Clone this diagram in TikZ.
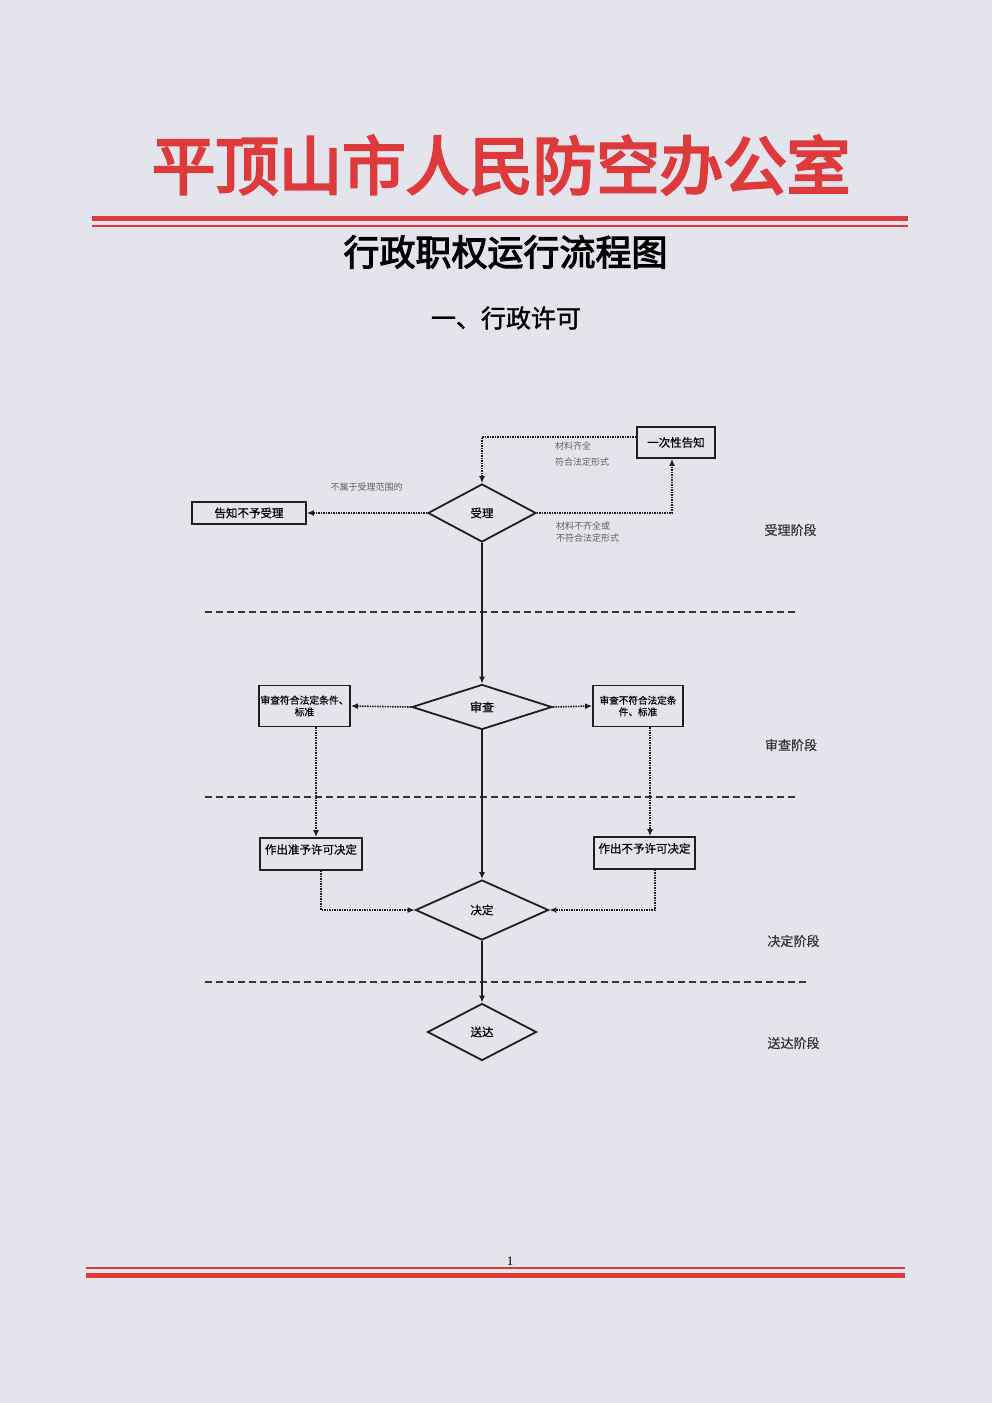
\documentclass[tikz,border=0pt]{standalone}
\usepackage{fontspec}
\setmainfont{Noto Sans CJK SC}
\newfontfamily\numfont{Liberation Serif}
\newfontfamily\titlefont[FakeBold=4]{Noto Sans CJK SC}
\newfontfamily\subfont[FakeBold=3]{Noto Sans CJK SC}
\newfontfamily\secfont[FakeBold=1.5]{Noto Sans CJK SC}
\newfontfamily\diafont[FakeBold=0.6]{Noto Sans CJK SC}
\usetikzlibrary{shapes.geometric,arrows.meta}
\newcommand\fsz[1]{\fontsize{#1}{#1}\selectfont}
\definecolor{paper}{RGB}{228,228,237}
\definecolor{hdred}{RGB}{222,58,60}
\definecolor{ink}{RGB}{30,30,30}
\definecolor{graytxt}{RGB}{95,95,95}
\tikzset{
  box/.style={draw=ink, line width=1.8pt, rectangle, inner sep=0pt, text=black, align=center, font=\diafont\fsz{11.5pt}},
  dia/.style={draw=ink, line width=1.8pt, diamond, inner sep=0pt, text=black, font=\diafont\fsz{11.5pt}},
  solidarrow/.style={draw=ink, line width=1.6pt, -{Latex[length=7pt,width=6pt]}},
  dotarrow/.style={draw=ink, line width=1.6pt, dash pattern=on 1.5pt off 1pt, -{Latex[length=7pt,width=6pt]}},
  note/.style={text=graytxt, font=\fsz{9pt}, inner sep=0pt},
  stage/.style={text=ink!90, font=\diafont\fsz{13pt}, inner sep=0pt},
  phaseline/.style={draw=ink!90, line width=1.8pt, dash pattern=on 7pt off 4pt},
  redthick/.style={draw=hdred, line width=5pt},
  redthin/.style={draw=hdred, line width=2pt}
}
\begin{document}
\begin{tikzpicture}[x=1pt,y=-1pt]
\fill[paper] (0,0) rectangle (992,1403);
\useasboundingbox (0,0) rectangle (992,1403);

% header
\node[text=hdred, font=\titlefont\fsz{63.5pt}, inner sep=0pt] (title) at (501,165) {平顶山市人民防空办公室};
\draw[redthick] (92,218.5) -- (908,218.5);
\draw[redthin] (92,225.5) -- (908,225.5);
\node[text=black, font=\subfont\fsz{36pt}, inner sep=0pt] (subtitle) at (505.5,252) {行政职权运行流程图};
\node[text=black, font=\secfont\fsz{25pt}, inner sep=0pt] (section) at (506,318) {一、行政许可};

% phase separators
\draw[phaseline] (205,612) -- (796,612);
\draw[phaseline] (205,797) -- (795,797);
\draw[phaseline] (205,982) -- (806,982);

% stage labels
\node[stage] (st1) at (790.5,530) {受理阶段};
\node[stage] (st2) at (791,745) {审查阶段};
\node[stage] (st3) at (793.5,941) {决定阶段};
\node[stage] (st4) at (793.5,1043) {送达阶段};

% nodes
\node[dia, minimum width=108pt, minimum height=58pt] (shouli) at (482,513) {受理};
\node[box, minimum width=78pt, minimum height=31pt] (yici) at (676,442.5) {一次性告知};
\node[box, minimum width=114pt, minimum height=22pt] (buyu) at (249,513) {告知不予受理};
\node[dia, minimum width=140pt, minimum height=45pt, font=\diafont\fsz{12pt}] (shencha) at (482,707) {审查};
\node[box, minimum width=91pt, minimum height=41pt, font=\diafont\fsz{9.8pt}] (fuhe) at (304.5,706) {审查符合法定条件、\\[2pt]标准};
\node[box, minimum width=90pt, minimum height=41pt, font=\diafont\fsz{9.6pt}] (bufuhe) at (638,706) {审查不符合法定条\\[2pt]件、标准};
\node[box, minimum width=102pt, minimum height=32pt, text depth=10pt] (zhunyu) at (311,854) {作出准予许可决定};
\node[box, minimum width=101pt, minimum height=32pt, text depth=10pt] (buyu2) at (644.5,853) {作出不予许可决定};
\node[dia, minimum width=133pt, minimum height=60pt] (jueding) at (482,910) {决定};
\node[dia, minimum width=109pt, minimum height=57pt] (songda) at (482,1032) {送达};

% notes
\node[note, anchor=west] (n1a) at (555,446) {材料齐全};
\node[note, anchor=west] (n1b) at (555,462) {符合法定形式};
\node[note, anchor=west] (n2a) at (556,526) {材料不齐全或};
\node[note, anchor=west] (n2b) at (556,538.5) {不符合法定形式};
\node[note] (n3) at (366.5,487) {不属于受理范围的};

% connectors
\draw[dotarrow] ([yshift=5.5pt]yici.west) -| (shouli.north);
\draw[dotarrow] (shouli.east) -| ([xshift=-4pt]yici.south);
\draw[dotarrow] (shouli.west) -- (buyu.east);
\draw[solidarrow] (shouli.south) -- (shencha.north);
\draw[dotarrow] (shencha.west) -- (fuhe.east);
\draw[dotarrow] (shencha.east) -- (bufuhe.west);
\draw[dotarrow] ([xshift=11.5pt]fuhe.south) -- ([xshift=5pt]zhunyu.north);
\draw[dotarrow] ([xshift=12pt]bufuhe.south) -- ([xshift=5.5pt]buyu2.north);
\draw[dotarrow] ([xshift=10pt]zhunyu.south) |- (jueding.west);
\draw[dotarrow] ([xshift=10.5pt]buyu2.south) |- (jueding.east);
\draw[solidarrow] (shencha.south) -- (jueding.north);
\draw[solidarrow] (jueding.south) -- (songda.north);

% footer
\node[text=black, font=\numfont\fsz{13pt}, inner sep=0pt] (pageno) at (510,1261) {1};
\draw[redthin] (86,1268) -- (905,1268);
\draw[redthick] (86,1275.5) -- (905,1275.5);
\end{tikzpicture}
\end{document}
